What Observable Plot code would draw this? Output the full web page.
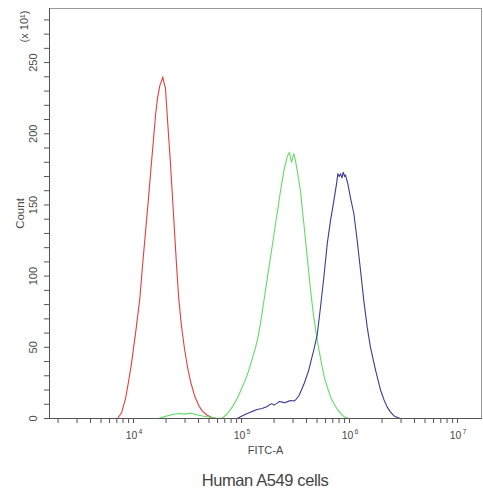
<!DOCTYPE html>
<html><head><meta charset="utf-8">
<script src="https://cdn.jsdelivr.net/npm/d3@7"></script>
<script src="https://cdn.jsdelivr.net/npm/@observablehq/plot@0.6"></script>
<style>
body{margin:0;background:#fff;font-family:"Liberation Sans",Arial,sans-serif}
#cap{width:483px;box-sizing:border-box;padding-left:49px;padding-right:2px;text-align:center;font-size:16.5px;letter-spacing:-0.4px;color:#444;line-height:36px;height:33px}
</style></head><body><div id="chart"></div><div id="cap">Human A549 cells</div>
<script>
// log10(FITC-A) positions and counts (x10^1)
const redLogFITC = [3.852,3.889,3.926,3.954,3.979,4.019,4.058,4.083,4.111,4.139,4.164,4.185,4.204,4.222,4.244,4.259,4.271,4.282,4.296,4.312,4.327,4.343,4.361,4.380,4.398,4.419,4.444,4.472,4.5,4.528,4.565,4.605,4.639,4.682,4.731,4.769];
const redCount    = [0,4,14,26,37.5,60,84,107,131,155,178,196,213,225,234,237,240,236,232,213,196,178,155,131,108,84,65,49,36,26,16,9,5,2.3,0.5,0];

const greenLogFITC = [4.231,4.296,4.361,4.417,4.472,4.528,4.583,4.639,4.694,4.75,4.821,4.87,4.914,4.96,5.006,5.04,5.068,5.10,5.130,5.155,5.176,5.2,5.222,5.245,5.269,5.29,5.315,5.34,5.361,5.392,5.423,5.444,5.463,5.484,5.50,5.516,5.546,5.56,5.577,5.593,5.608,5.625,5.639,5.669,5.701,5.725,5.747,5.77,5.794,5.825,5.855,5.89,5.932,5.96,5.994];
const greenCount    = [0,1.5,2.8,3.5,3.1,3.8,2.6,1.8,1,0.4,0,3.5,8,14,22,28,34,42,50,58,67,79,90,102,113.5,124,137,149,160,174,184,187,180,186,181,174,160,149,137,125,113.5,101,90,71,55,45,36,28,22,15,10.5,6,2.3,0.8,0];

const blueLogFITC = [4.960,5.0,5.053,5.1,5.145,5.19,5.238,5.26,5.284,5.30,5.331,5.35,5.377,5.40,5.438,5.46,5.48,5.5,5.531,5.555,5.577,5.60,5.623,5.645,5.669,5.701,5.731,5.762,5.794,5.824,5.855,5.880,5.892,5.905,5.917,5.93,5.942,5.955,5.963,5.984,6.009,6.040,6.071,6.102,6.132,6.164,6.194,6.241,6.287,6.32,6.349,6.38,6.410,6.44,6.472];
const blueCount    = [0,1.5,3.5,5,6.3,7,8.4,9.8,10.3,9.4,10.8,12,11.5,11,12.2,12.6,12.3,13,16,20,24,29,34,41,48,59,78,99,123,139,153,165,172,170,172,169,173,170,171,165,155,144,125,104,83,64,50,34,20,13,8,4.5,2,0.8,0];

const seriesNames  = ["blank control", "isotype control", "antibody"];
const seriesColors = ["#e63d3d", "#62dc62", "#3b3b96"];

const xMajor     = [1e4, 1e5, 1e6, 1e7];
const xMajorBase = ["10", "10", "10", "10"];
const xMajorExp  = ["4", "5", "6", "7"];
const xMinor = [2e3,3e3,4e3,5e3,6e3,7e3,8e3,9e3,1e4,2e4,3e4,4e4,5e4,6e4,7e4,8e4,9e4,1e5,2e5,3e5,4e5,5e5,6e5,7e5,8e5,9e5,1e6,2e6,3e6,4e6,5e6,6e6,7e6,8e6,9e6,1e7];
const yLabels = [0, 50, 100, 150, 200, 250];
const yMinor  = [0,10,20,30,40,50,60,70,80,90,100,110,120,130,140,150,160,170,180,190,200,210,220,230,240,250,260,270,280];

const rows = [
  ...redLogFITC.map((l, i) => ({series: seriesNames[0], fitc: 10 ** l, count: redCount[i]})),
  ...greenLogFITC.map((l, i) => ({series: seriesNames[1], fitc: 10 ** l, count: greenCount[i]})),
  ...blueLogFITC.map((l, i) => ({series: seriesNames[2], fitc: 10 ** l, count: blueCount[i]}))
];

const txt = "#4a4a4a";
const chart = Plot.plot({
  width: 483, height: 462,
  marginLeft: 49, marginRight: 2, marginTop: 8, marginBottom: 44,
  style: {fontFamily: "'Liberation Sans', Arial, sans-serif", background: "#fff", color: "#555"},
  x: {type: "log", domain: [10 ** 3.222, 10 ** 7.222]},
  y: {domain: [0, 288]},
  color: {type: "ordinal", domain: seriesNames, range: seriesColors},
  marks: [
    Plot.frame({stroke: "#9a9a9a"}),
    Plot.line(rows, {x: "fitc", y: "count", z: "series", stroke: "series", strokeWidth: 1.1}),
    Plot.axisX({ticks: xMinor, tickSize: 5, tickFormat: () => "", label: null, stroke: "#555"}),
    Plot.axisY({ticks: yMinor, tickSize: 5, tickFormat: () => "", label: null, stroke: "#555"}),
    Plot.frame({anchor: "left", stroke: "#555"}),
    Plot.frame({anchor: "bottom", stroke: "#555"}),
    Plot.text(xMajor, {x: d => d, text: (d, i) => xMajorBase[i], frameAnchor: "bottom", dy: 20, dx: -2, fontSize: 10.5, fill: txt}),
    Plot.text(xMajor, {x: d => d, text: (d, i) => xMajorExp[i], frameAnchor: "bottom", dy: 15, dx: 7, fontSize: 7, fill: txt}),
    Plot.text(yLabels, {y: d => d, text: d => String(d), frameAnchor: "left", textAnchor: "middle", dx: -16, rotate: -90, fontSize: 11, fill: txt}),
    Plot.text(["FITC-A"], {text: d => d, frameAnchor: "bottom", dy: 35, fontSize: 11, fill: txt}),
    Plot.text(["Count"], {text: d => d, frameAnchor: "left", textAnchor: "middle", dx: -29, rotate: -90, fontSize: 11.5, fill: txt}),
    Plot.text(["(x 10\u00B9)"], {text: d => d, frameAnchor: "top-left", textAnchor: "middle", dx: -29, dy: 18, rotate: -90, fontSize: 11, fill: txt})
  ]
});
document.getElementById("chart").appendChild(chart);
</script>
</body></html>
